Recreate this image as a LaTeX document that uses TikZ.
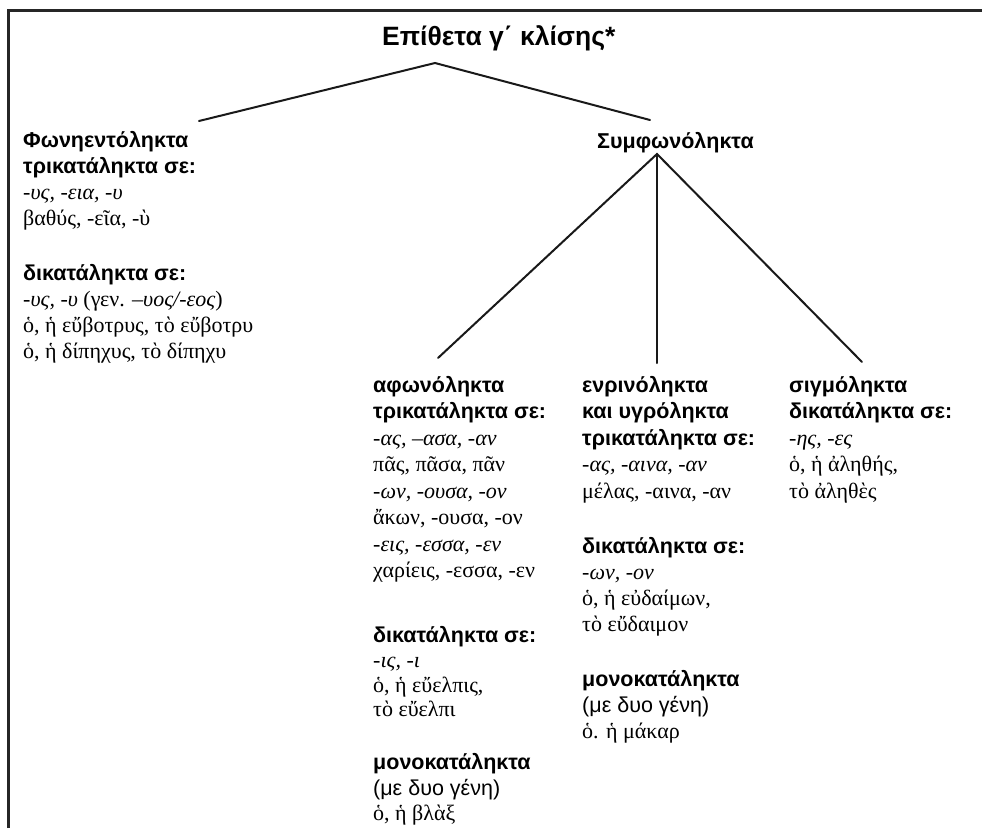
\documentclass[tikz,border=0pt]{standalone}
\usepackage{fontspec}
\setmainfont{Liberation Serif}
\setsansfont{Liberation Sans}
\begin{document}
\begin{tikzpicture}[x=1pt,y=-1pt,
  every node/.style={inner sep=0pt, anchor=base west},
  ti/.style={font=\fontsize{26.5}{30}\selectfont\sffamily\bfseries},
  hd/.style={font=\fontsize{21.5}{26}\selectfont\sffamily\bfseries},
  sn/.style={font=\fontsize{21.5}{26}\selectfont\sffamily},
  gi/.style={font=\fontsize{22}{26}\selectfont\itshape},
  gr/.style={font=\fontsize{22}{26}\selectfont},
  conn/.style={line width=2pt, draw=black!90, line cap=round, line join=miter},
  frame/.style={line width=2.7pt, draw=black!85}]
\useasboundingbox (0,0) rectangle (982,828);
\fill[white] (0,0) rectangle (982,828);
% frame
\draw[frame] (8.7,828) -- (8.7,10.3) -- (982,10.3);
% title
\node[ti] (title) at (382,45) {Επίθετα γ΄ κλίσης*};
\coordinate (ap) at (435,63);
\coordinate (lt) at (199,121);
\coordinate (rt) at (650,120);
\draw[conn] (lt) -- (ap) -- (rt);
% left column
\node[hd] (l1) at (23,147) {Φωνηεντόληκτα};
\node[hd] (l2) at (23,173) {τρικατάληκτα σε:};
\node[gi] (l3) at (23,199) {-υς, -εια, -υ};
\node[gr] (l4) at (23,225) {βαθύς, -εῖα, -ὺ};
\node[hd] (l5) at (23,280) {δικατάληκτα σε:};
\node[gr] (l6) at (23,306) {\textit{-υς, -υ} (γεν. \textit{–υος/-εος})};
\node[gr] (l7) at (23,332) {ὁ, ἡ εὔβοτρυς, τὸ εὔβοτρυ};
\node[gr] (l8) at (23,358) {ὁ, ἡ δίπηχυς, τὸ δίπηχυ};
% consonant
\node[hd] (sy) at (597,148) {Συμφωνόληκτα};
\coordinate (sp) at (657,154);
\coordinate (sa) at (438,358);
\coordinate (sm) at (657,363);
\coordinate (sr) at (862,362);
\draw[conn] (sa) -- (sp) -- (sr);
\draw[conn] (sp) -- (sm);
% aphonoleкта column
\node[hd] (a1) at (373,392) {αφωνόληκτα};
\node[hd] (a2) at (373,418.5) {τρικατάληκτα σε:};
\node[gi] (a3) at (373,445) {-ας, –ασα, -αν};
\node[gr] (a4) at (373,471.5) {πᾶς, πᾶσα, πᾶν};
\node[gi] (a5) at (373,498) {-ων, -ουσα, -ον};
\node[gr] (a6) at (373,524.5) {ἄκων, -ουσα, -ον};
\node[gi] (a7) at (373,551) {-εις, -εσσα, -εν};
\node[gr] (a8) at (373,577.5) {χαρίεις, -εσσα, -εν};
\node[hd] (a9) at (373,642) {δικατάληκτα σε:};
\node[gi] (a10) at (373,667) {-ις, -ι};
\node[gr] (a11) at (373,692) {ὁ, ἡ εὔελπις,};
\node[gr] (a12) at (373,716) {τὸ εὔελπι};
\node[hd] (a13) at (373,769) {μονοκατάληκτα};
\node[sn] (a14) at (373,795) {(με δυο γένη)};
\node[gr] (a15) at (373,820) {ὁ, ἡ βλὰξ};
% middle column
\node[hd] (m1) at (582,392) {ενρινόληκτα};
\node[hd] (m2) at (582,418.5) {και υγρόληκτα};
\node[hd] (m3) at (582,445) {τρικατάληκτα σε:};
\node[gi] (m4) at (582,471.5) {-ας, -αινα, -αν};
\node[gr] (m5) at (582,498) {μέλας, -αινα, -αν};
\node[hd] (m6) at (582,553) {δικατάληκτα σε:};
\node[gi] (m7) at (582,579) {-ων, -ον};
\node[gr] (m8) at (582,605) {ὁ, ἡ εὐδαίμων,};
\node[gr] (m9) at (582,631) {τὸ εὔδαιμον};
\node[hd] (m10) at (582,686) {μονοκατάληκτα};
\node[sn] (m11) at (582,712) {(με δυο γένη)};
\node[gr] (m12) at (582,738) {ὁ. ἡ μάκαρ};
% right column
\node[hd] (r1) at (789,392) {σιγμόληκτα};
\node[hd] (r2) at (789,418.5) {δικατάληκτα σε:};
\node[gi] (r3) at (789,445) {-ης, -ες};
\node[gr] (r4) at (789,471.5) {ὁ, ἡ ἀληθής,};
\node[gr] (r5) at (789,498) {τὸ ἀληθὲς};
\end{tikzpicture}
\end{document}
